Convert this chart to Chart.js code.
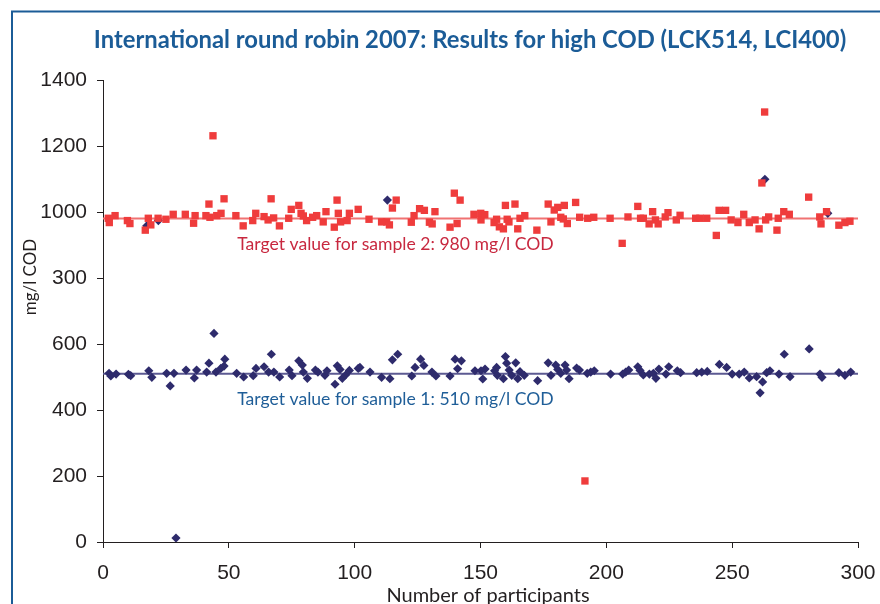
<!DOCTYPE html>
<html>
<head>
<meta charset="utf-8">
<script src="https://cdn.jsdelivr.net/npm/chart.js@4.4.0/dist/chart.umd.min.js"></script>
<style>
  html, body { margin: 0; padding: 0; background: #fff; }
  #wrap { width: 880px; height: 604px; }
</style>
</head>
<body>
<div id="wrap"><canvas id="cod" width="880" height="604"></canvas></div>
<script>
const chartTitle = 'International round robin 2007: Results for high COD (LCK514, LCI400)';
const xAxisTitle = 'Number of participants';
const yAxisTitle = 'mg/l COD';
const yTickLabels = ['0', '200', '400', '600', '300', '1000', '1200', '1400'];

const target1 = 510;
const target2 = 980;
const target1Label = 'Target value for sample 1: 510 mg/l COD';
const target2Label = 'Target value for sample 2: 980 mg/l COD';

// sample 2 results (red squares)
const sample2X = [
  2.1, 2.5, 4.8, 9.7, 10.7, 16.8, 18.0, 19.0, 21.9, 25.0,
  27.9, 32.7, 36.0, 36.6, 40.9, 42.1, 42.5, 43.7, 45.2, 46.9,
  48.1, 52.8, 55.7, 59.5, 60.7, 64.0, 65.6, 66.8, 67.8, 70.1,
  73.8, 74.8, 77.8, 78.7, 79.6, 80.9, 83.3, 84.9, 87.5, 88.6,
  91.9, 93.0, 93.5, 94.4, 97.0, 97.9, 101.4, 105.7, 110.7, 112.7,
  113.8, 115.0, 116.5, 122.5, 123.6, 125.8, 127.7, 129.7, 130.8, 131.9,
  137.9, 139.6, 140.7, 141.9, 147.4, 150.1, 150.2, 151.7, 155.4, 156.4,
  157.5, 159.1, 159.9, 160.6, 161.3, 163.7, 164.8, 165.7, 167.6, 172.4,
  176.9, 178.0, 179.3, 180.7, 181.9, 182.9, 183.3, 184.5, 187.8, 189.4,
  191.5, 192.6, 195.0, 201.5, 206.3, 208.6, 212.5, 213.6, 214.7, 217.0,
  218.4, 219.5, 220.6, 223.4, 224.5, 227.8, 229.3, 235.5, 237.2, 239.9,
  243.7, 244.8, 247.4, 249.6, 252.3, 254.6, 256.8, 259.1, 260.7, 261.8,
  262.9, 263.3, 264.5, 267.8, 268.3, 270.5, 272.7, 280.4, 284.8, 285.3,
  287.5, 292.4, 294.8, 296.8
];
const sample2Y = [
  981, 968, 989, 974, 965, 945, 981, 961, 981, 978,
  993, 993, 966, 989, 989, 1024, 984, 1231, 989, 996,
  1040, 989, 958, 974, 996, 986, 976, 1040, 982, 958,
  981, 1008, 1020, 996, 988, 974, 984, 989, 970, 1001,
  954, 1036, 996, 970, 974, 996, 1008, 978, 970, 970,
  961, 1012, 1036, 969, 989, 1010, 1005, 969, 964, 1001,
  954, 1057, 965, 1036, 993, 996, 976, 992, 968, 978,
  955, 949, 1020, 978, 970, 1024, 949, 981, 989, 945,
  1024, 970, 1006, 1014, 984, 979, 1020, 965, 1029, 984,
  185, 981, 984, 981, 905, 985, 1017, 981, 981, 964,
  1001, 976, 964, 985, 998, 976, 990, 981, 981, 981,
  929, 1005, 1005, 976, 968, 993, 968, 976, 949, 1088,
  1303, 976, 985, 945, 981, 1001, 993, 1045, 985, 964,
  1001, 960, 968, 972
];

// sample 1 results (blue diamonds)
const sample1X = [
  2.4, 3.1, 5.2, 10.1, 11.0, 17.4, 18.2, 19.4, 22.0, 25.3,
  26.7, 28.2, 29.0, 33.0, 36.3, 37.2, 41.2, 42.1, 44.1, 44.9,
  46.8, 48.1, 48.4, 53.1, 55.9, 59.7, 60.8, 64.0, 65.8, 66.9,
  67.9, 70.2, 74.0, 75.1, 77.8, 79.2, 79.6, 81.2, 84.4, 85.4,
  88.2, 89.0, 92.2, 93.1, 94.2, 95.1, 96.4, 97.9, 101.4, 102.1,
  106.1, 110.7, 113.0, 114.0, 115.0, 117.1, 122.7, 124.0, 126.2, 127.5,
  130.7, 132.3, 137.9, 139.9, 140.9, 142.4, 147.8, 150.2, 150.9, 151.8,
  155.6, 156.4, 156.7, 159.1, 159.9, 160.4, 161.4, 162.4, 164.0, 164.8,
  165.7, 167.4, 172.7, 176.9, 178.0, 179.9, 180.7, 181.9, 183.6, 184.2,
  185.2, 188.2, 189.3, 192.4, 193.8, 195.2, 201.7, 206.5, 207.7, 208.9,
  212.5, 213.4, 214.7, 217.1, 218.7, 219.7, 220.9, 223.7, 224.8, 228.2,
  229.5, 235.9, 237.9, 240.1, 244.9, 247.8, 250.0, 252.8, 254.8, 256.8,
  259.7, 261.1, 262.1, 263.0, 263.7, 265.0, 268.6, 270.7, 273.0, 280.6,
  284.9, 285.7, 288.0, 292.4, 294.8, 297.1
];
const sample1Y = [
  511, 503, 509, 508, 504, 958, 519, 499, 974, 511,
  473, 511, 12, 521, 497, 521, 515, 542, 632, 515,
  526, 533, 554, 511, 500, 504, 526, 531, 515, 569,
  515, 500, 521, 504, 549, 536, 515, 496, 521, 515,
  505, 519, 478, 534, 523, 496, 506, 520, 526, 529,
  515, 499, 1036, 495, 552, 569, 503, 529, 554, 535,
  515, 503, 503, 554, 525, 549, 519, 519, 494, 524,
  519, 529, 505, 495, 562, 542, 521, 505, 543, 495,
  516, 505, 489, 543, 505, 536, 523, 511, 536, 521,
  495, 527, 521, 511, 515, 519, 509, 509, 515, 521,
  531, 520, 506, 509, 511, 496, 524, 509, 531, 519,
  513, 513, 515, 517, 538, 529, 509, 509, 515, 497,
  501, 452, 485, 1099, 513, 519, 509, 569, 501, 585,
  509, 499, 996, 513, 505, 515
];

const toPoints = (xs, ys) => xs.map((x, i) => ({ x: x, y: ys[i] }));

const frameColor = '#1b5c97';
const redColor = '#ef3c3c';
const navyColor = '#2e2b6c';
const inkColor = '#231f20';

const decorPlugin = {
  id: 'decor',
  beforeDraw(chart) {
    const ctx = chart.ctx;
    ctx.save();
    ctx.fillStyle = '#ffffff';
    ctx.fillRect(0, 0, chart.width, chart.height);
    ctx.strokeStyle = frameColor;
    ctx.lineWidth = 2;
    ctx.beginPath();
    ctx.moveTo(12, chart.height);
    ctx.lineTo(12, 11.5);
    ctx.lineTo(chart.width, 11.5);
    ctx.stroke();
    ctx.restore();
  },
  afterDraw(chart) {
    const { ctx } = chart;
    const xs = chart.scales.x;
    const ys = chart.scales.y;
    ctx.save();

    // title
    ctx.font = 'bold 23.8px Lato';
    ctx.fillStyle = frameColor;
    ctx.textAlign = 'center';
    ctx.textBaseline = 'alphabetic';
    ctx.fillText(chartTitle, 470, 48);

    // target labels
    ctx.font = '17.6px Lato';
    ctx.textAlign = 'left';
    ctx.fillStyle = '#c8283f';
    ctx.fillText(target2Label, xs.getPixelForValue(53.3), ys.getPixelForValue(target2) + 31);
    ctx.fillStyle = '#1f5e98';
    ctx.fillText(target1Label, xs.getPixelForValue(53.3), ys.getPixelForValue(target1) + 31);

    // x axis title, a little right of the axis centre as in the original
    ctx.font = '20px Lato';
    ctx.fillStyle = inkColor;
    ctx.textAlign = 'center';
    ctx.fillText(xAxisTitle, 488, 602);

    // y axis title
    ctx.translate(36, 277);
    ctx.rotate(-Math.PI / 2);
    ctx.font = '17px Lato';
    ctx.fillText(yAxisTitle, 0, 0);
    ctx.restore();
  }
};

new Chart(document.getElementById('cod'), {
  type: 'scatter',
  data: {
    datasets: [
      {
        label: 'Sample 2',
        data: toPoints(sample2X, sample2Y),
        pointStyle: 'rect',
        pointRadius: 5.2,
        backgroundColor: redColor,
        borderWidth: 0,
        order: 0,
      },
      {
        label: 'Sample 1',
        data: toPoints(sample1X, sample1Y),
        pointStyle: 'rectRot',
        pointRadius: 4.6,
        backgroundColor: navyColor,
        borderWidth: 0,
        order: 1,
      },
      {
        label: 'Target 2',
        data: [{ x: 0, y: target2 }, { x: 300, y: target2 }],
        showLine: true,
        borderColor: '#f07272',
        borderWidth: 2,
        pointRadius: 0,
        order: 2,
      },
      {
        label: 'Target 1',
        data: [{ x: 0, y: target1 }, { x: 300, y: target1 }],
        showLine: true,
        borderColor: '#5c5a92',
        borderWidth: 2,
        pointRadius: 0,
        order: 3,
      },
    ],
  },
  options: {
    responsive: false,
    animation: false,
    devicePixelRatio: 1,
    layout: { padding: { left: 0, right: 22, top: 80, bottom: 0 } },
    plugins: {
      legend: { display: false },
      tooltip: { enabled: false },
    },
    scales: {
      x: {
        type: 'linear',
        min: 0,
        max: 300,
        afterFit: (scale) => {
          scale.height = 62;
          // the outer labels fit inside the layout padding already
          scale.paddingLeft = 0;
          scale.paddingRight = 0;
        },
        ticks: {
          stepSize: 50,
          padding: 13,
          color: inkColor,
          font: { family: 'Liberation Sans', size: 21 },
        },
        grid: { drawOnChartArea: false, drawTicks: true, tickLength: 6, color: inkColor },
        border: { display: true, color: inkColor, width: 1 },
      },
      y: {
        type: 'linear',
        min: 0,
        max: 1400,
        afterFit: (scale) => { scale.width = 103; },
        ticks: {
          stepSize: 200,
          padding: 10,
          color: inkColor,
          font: { family: 'Liberation Sans', size: 21 },
          callback: (value, index) => yTickLabels[index],
        },
        grid: { drawOnChartArea: false, drawTicks: true, tickLength: 6, color: inkColor },
        border: { display: true, color: inkColor, width: 1 },
      },
    },
  },
  plugins: [decorPlugin],
});
</script>
</body>
</html>
